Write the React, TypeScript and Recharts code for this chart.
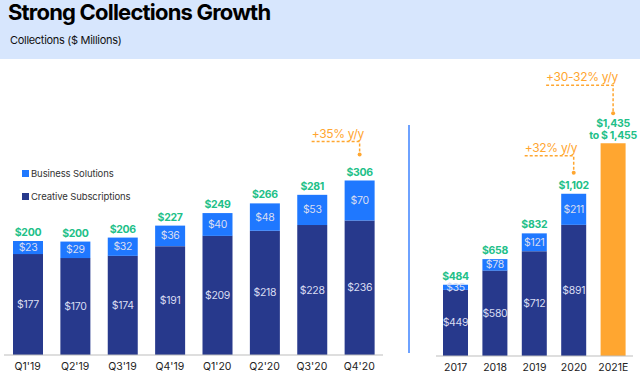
import React from 'react';
import { BarChart, Bar, XAxis, YAxis, LabelList } from 'recharts';

// quarterly collections ($M)
const quarters = ["Q1'19", "Q2'19", "Q3'19", "Q4'19", "Q1'20", "Q2'20", "Q3'20", "Q4'20"];
const qCreative = [177, 170, 174, 191, 209, 218, 228, 236];
const qBusiness = [23, 29, 32, 36, 40, 48, 53, 70];
const qTotal = [200, 200, 206, 227, 249, 266, 281, 306];
const qNotes = ['', '', '', '', '', '', '', '+35% y/y'];

// annual collections ($M)
const years = ['2017', '2018', '2019', '2020', '2021E'];
const yCreative = [449, 580, 712, 891, null];
const yBusiness = [35, 78, 121, 211, null];
const yGuidance = [null, null, null, null, 1445];
const yTotal = [484, 658, 832, 1102, null];
const yGuidanceText = ['', '', '', '', '$1,435|to $ 1,455'];
const yNotes = ['', '', '', '+32% y/y', '+30-32% y/y'];

const legendItems = ['Business Solutions', 'Creative Subscriptions'];

const COLORS = {
  creative: '#27398C',
  business: '#1F78FF',
  guidance: '#FFA630',
  total: '#22BF88',
  inner: '#D9DDF2',
  note: '#FFA630',
  axis: '#BDBDBD',
  text: '#222',
  band: '#D7E6FD',
  divider: '#6EA2FF',
};

const FONT = 'Inter, "Open Sans", sans-serif';

const quarterData = quarters.map((q, i) => ({
  q,
  creative: qCreative[i],
  business: qBusiness[i],
  total: qTotal[i],
  note: qNotes[i],
}));

const yearData = years.map((y, i) => ({
  y,
  creative: yCreative[i],
  business: yBusiness[i],
  guidance: yGuidance[i],
  total: yTotal[i],
  guidanceText: yGuidanceText[i],
  note: yNotes[i],
}));

const money = (v: any) => (v == null ? '' : '$' + Number(v).toLocaleString('en-US'));

function InnerLabel(props: any) {
  const { x, y, width, height, value } = props;
  if (value == null || value === '') return null;
  return (
    <text x={x + width / 2} y={y + height / 2} textAnchor="middle" dominantBaseline="central"
      fill={COLORS.inner} fontSize={10.5} fontFamily={FONT} letterSpacing={-0.3}>
      {money(value)}
    </text>
  );
}

function TotalLabel(props: any) {
  const { x, y, width, value } = props;
  if (value == null || value === '') return null;
  return (
    <text x={x + width / 2} y={y - 5} textAnchor="middle" fill={COLORS.total}
      fontSize={10.5} fontWeight={700} fontFamily={FONT} letterSpacing={-0.3}>
      {money(value)}
    </text>
  );
}

function GuidanceLabel(props: any) {
  const { x, y, width, value } = props;
  if (!value) return null;
  const [l1, l2] = String(value).split('|');
  return (
    <text x={x + width / 2} textAnchor="middle" fill={COLORS.total}
      fontSize={10.5} fontWeight={700} fontFamily={FONT} letterSpacing={-0.3}>
      <tspan x={x + width / 2} y={y - 16}>{l1}</tspan>
      <tspan x={x + width / 2} y={y - 4}>{l2}</tspan>
    </text>
  );
}

// dashed elbow callout above a bar
function makeNote(dot: number, line: number, span: number) {
  return (props: any) => {
    const { x, y, width, value } = props;
    if (!value) return null;
    const cx = x + width / 2;
    const sx = cx - span;
    return (
      <g>
        <path d={`M${sx},${y - line} H${cx} V${y - dot}`} fill="none" stroke={COLORS.note}
          strokeWidth={1.5} strokeDasharray="3 2" />
        <circle cx={cx} cy={y - dot} r={2} fill={COLORS.note} />
        <text x={sx} y={y - line - 4} fill={COLORS.note} fontSize={12} fontFamily={FONT} letterSpacing={-0.3}>
          {value}
        </text>
      </g>
    );
  };
}

export default function App() {
  const tick = { fill: COLORS.text, fontSize: 10.5, fontFamily: FONT };
  const legendColors = [COLORS.business, COLORS.creative];
  return (
    <div style={{ position: 'absolute', left: 0, top: 0, width: 640, height: 375, background: '#fff', fontFamily: FONT, overflow: 'hidden' }}>
      <div style={{ position: 'absolute', left: 0, top: 0, width: 640, height: 59, background: COLORS.band }}>
        <div style={{ position: 'absolute', left: 8, top: -1, fontSize: 22, fontWeight: 700, color: '#000', letterSpacing: -0.8 }}>
          Strong Collections Growth
        </div>
        <div style={{ position: 'absolute', left: 10, top: 33, fontSize: 11, color: '#111', letterSpacing: -0.3 }}>
          Collections ($ Millions)
        </div>
      </div>

      <div style={{ position: 'absolute', left: 22, top: 167, fontSize: 9.5, color: '#333', letterSpacing: -0.1 }}>
        {legendItems.map((name, i) => (
          <div key={name} style={{ display: 'flex', alignItems: 'center', height: 12, marginBottom: 11 }}>
            <span style={{ width: 7, height: 7, background: legendColors[i], marginRight: 2, display: 'inline-block' }} />
            {name}
          </div>
        ))}
      </div>

      <div style={{ position: 'absolute', left: 0, top: 60 }}>
        <BarChart width={383} height={315} data={quarterData} margin={{ top: 67, right: 0, left: 4, bottom: 0 }}>
          <XAxis dataKey="q" height={20} tickLine={false} axisLine={{ stroke: COLORS.axis }} tick={tick} interval={0} />
          <YAxis hide domain={[0, 400]} />
          <Bar dataKey="creative" name="Creative Subscriptions" stackId="a" fill={COLORS.creative} barSize={30} isAnimationActive={false}>
            <LabelList dataKey="creative" content={InnerLabel} />
          </Bar>
          <Bar dataKey="business" name="Business Solutions" stackId="a" fill={COLORS.business} barSize={30} isAnimationActive={false}>
            <LabelList dataKey="business" content={InnerLabel} />
            <LabelList dataKey="total" content={TotalLabel} />
            <LabelList dataKey="note" content={makeNote(26, 39, 48)} />
          </Bar>
        </BarChart>
      </div>

      <div style={{ position: 'absolute', left: 408, top: 125, width: 2, height: 228, background: COLORS.divider }} />

      <div style={{ position: 'absolute', left: 430, top: 60 }}>
        <BarChart width={210} height={315} data={yearData} margin={{ top: 31, right: 7, left: 6, bottom: 0 }}>
          <XAxis dataKey="y" height={19} tickLine={false} axisLine={{ stroke: COLORS.axis }} tick={tick} interval={0} />
          <YAxis hide domain={[0, 1800]} />
          <Bar dataKey="creative" stackId="a" fill={COLORS.creative} barSize={25} isAnimationActive={false}>
            <LabelList dataKey="creative" content={InnerLabel} />
          </Bar>
          <Bar dataKey="business" stackId="a" fill={COLORS.business} barSize={25} isAnimationActive={false}>
            <LabelList dataKey="business" content={InnerLabel} />
            <LabelList dataKey="total" content={TotalLabel} />
            <LabelList dataKey="note" content={makeNote(21, 38, 49)} />
          </Bar>
          <Bar dataKey="guidance" stackId="a" fill={COLORS.guidance} barSize={25} isAnimationActive={false}>
            <LabelList dataKey="guidanceText" content={GuidanceLabel} />
            <LabelList dataKey="note" content={makeNote(30, 58, 67)} />
          </Bar>
        </BarChart>
      </div>
    </div>
  );
}
